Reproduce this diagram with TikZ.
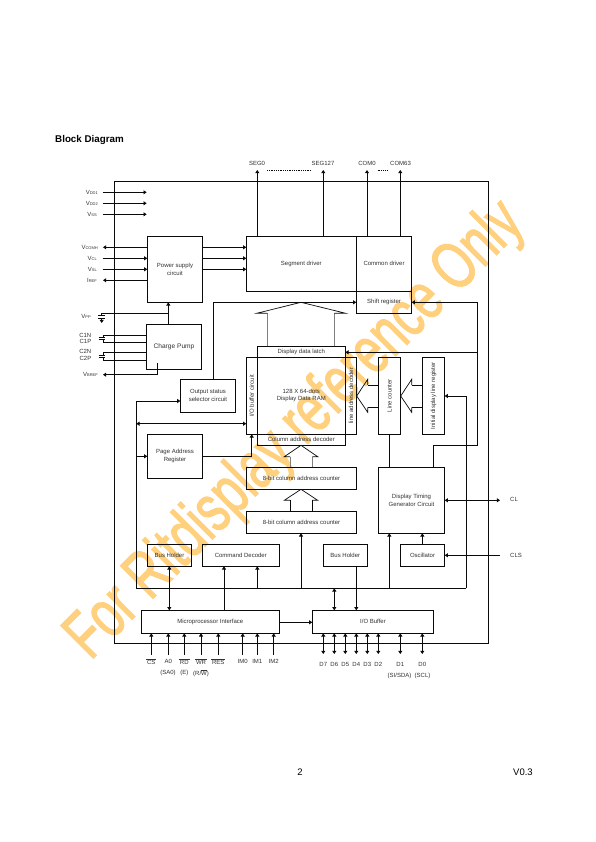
\documentclass[tikz,border=0pt]{standalone}
\usepackage{fontspec}
\setmainfont{Liberation Sans}
\newfontfamily\wmfont[FakeBold=2]{Liberation Sans}
\usetikzlibrary{arrows.meta}
\definecolor{wm}{RGB}{255,208,125}
\definecolor{ln}{RGB}{10,10,10}
\definecolor{txt}{RGB}{50,50,50}
\tikzset{
 x=1pt,y=-1pt,
 every node/.style={text=txt,font=\fontsize{6}{8}\selectfont,inner sep=0pt,align=center},
 blk/.style={draw=ln,line width=.85pt},
 wire/.style={draw=ln,line width=.8pt},
 tip/.tip={Triangle[length=3.2pt,width=4pt]},
 ar/.style={wire,-tip},
 ra/.style={wire,tip-},
 bi/.style={wire,tip-tip},
 hollow/.style={draw=ln,line width=.7pt},
 stem/.style={draw=gray,line width=.8pt},
}
\newcommand{\ov}[1]{$\overline{\mbox{\,#1\,}}$}
\newcommand{\sbs}[1]{{\fontsize{4}{4}\selectfont #1}}
\begin{document}
\begin{tikzpicture}
\useasboundingbox (0,0) rectangle (595,842);
\fill[white] (0,0) rectangle (595,842);
% watermark
\node[rotate=45,xscale=.71,text=wm,font=\wmfont\fontsize{67}{67}\selectfont] (wmk) at (296,431) {For Ritdisplay reference Only};
% title
\node[anchor=west,text=black,font=\bfseries\fontsize{9.8}{11}\selectfont] (title) at (55,139.5) {Block Diagram};
\node[text=black,font=\fontsize{9.5}{11}\selectfont] (pg) at (300,772) {2};
\node[text=black,font=\fontsize{9.5}{11}\selectfont] (ver) at (523,772) {V0.3};
% outer
\draw[blk] (114.3,181.5) rectangle (488,643);
% blocks
\draw[blk] (147.3,236.3) rectangle node (ps) {Power supply\\circuit} (202.7,302.3);
\draw[blk] (146.3,324.3) rectangle node[font=\fontsize{6.6}{8}\selectfont] (cp) {Charge Pump} (201.7,369.3);
\draw[blk] (246.3,236.3) rectangle node (seg) {Segment driver} (356.3,291.3);
\draw[blk] (356.3,236.3) rectangle node (com) {Common driver} (411.7,291.3);
\draw[blk] (356.3,291.3) rectangle node (shift) {Shift register} (411.7,313.3);
\draw[blk] (180.3,379.3) rectangle node (oss) {Output status\\selector circuit} (235.7,412.3);
\draw[blk] (246.3,357.3) rectangle node[rotate=90] (iob) {I/O buffer circuit} (257.3,434.3);
\draw[blk] (257.3,357.3) rectangle node (ram) {128 X 64-dots\\[-1pt]Display Data RAM} (345.3,434.3);
\draw[blk] (257.3,346.3) rectangle node (ddl) {Display data latch} (345.3,357.3);
\draw[blk] (345.3,357.3) rectangle node[rotate=90] (lad) {line address decoder} (356.7,434.3);
\draw[blk] (257.3,434.3) rectangle node (cad) {Column address decoder} (345.3,445.3);
\draw[blk] (147.3,434.3) rectangle node (par) {Page Address\\Register} (202.7,478.3);
\draw[blk] (246.3,467.3) rectangle node (cnt1) {8-bit column address counter} (356.7,489.3);
\draw[blk] (246.3,511.3) rectangle node (cnt2) {8-bit column address counter} (356.7,533.3);
\draw[blk] (378.3,357.3) rectangle node[rotate=90] (lc) {Line counter} (400.7,434.3);
\draw[blk] (422.3,357.3) rectangle node[rotate=90] (idl) {Initial display line register} (444.7,434.3);
\draw[blk] (378.3,467.3) rectangle node (dtg) {Display Timing\\Generator Circuit} (444.7,533.3);
\draw[blk] (400.3,544.3) rectangle node (osc) {Oscillator} (444.7,566.3);
\draw[blk] (323.3,544.3) rectangle node (bh2) {Bus Holder} (367.3,566.3);
\draw[blk] (147.3,544.3) rectangle node (bh1) {Bus Holder} (191.7,566.3);
\draw[blk] (202.3,544.3) rectangle node (cmd) {Command Decoder} (279.3,566.3);
\draw[blk] (141.3,610.3) rectangle node (mpi) {Microprocessor Interface} (279.3,633.3);
\draw[blk] (312.3,610.3) rectangle node (iob2) {I/O Buffer} (433.7,633.3);
% left pins
\foreach \y in {192.3,203.3,214.3}{\draw[ar] (102.7,\y) -- (146.7,\y);}
\node[anchor=east] (vdd1) at (98,192.3) {V\sbs{DD1}};
\node[anchor=east] (vdd2) at (98,203.3) {V\sbs{DD2}};
\node[anchor=east] (vss) at (97,214.3) {V\sbs{SS}};
\node[anchor=east] (vcomh) at (98,247.3) {V\sbs{COMH}};
\node[anchor=east] (vcl) at (97,258.3) {V\sbs{CL}};
\node[anchor=east] (vsl) at (97,269.3) {V\sbs{SL}};
\node[anchor=east] (iref) at (97,280.3) {I\sbs{REF}};
\draw[ra] (103,247.3) -- (147.3,247.3);
\draw[ar] (102.7,258.3) -- (147.3,258.3);
\draw[ar] (102.7,269.3) -- (147.3,269.3);
\draw[ra] (103,280.3) -- (147.3,280.3);
\foreach \y in {247.3,258.3,269.3}{\draw[ar] (202.7,\y) -- (246.3,\y);}
% Vpp and caps
\node[anchor=east] (vpp) at (91,316.7) {V\sbs{PP}};
\draw[wire] (101.7,313.3) -- (168.3,313.3);
\draw[ar] (168.3,324.3) -- (168.3,302.3);
\draw[wire] (101.7,313.3) -- (101.7,315.5);
\draw[wire] (98.3,315.5) -- (105,315.5) (98.3,318) -- (105,318);
\draw[ar] (101.7,318) -- (101.7,323);
\node[anchor=east] (c1n) at (91.5,335) {C1N};
\node[anchor=east] (c1p) at (91.5,341) {C1P};
\node[anchor=east] (c2n) at (91.5,351.7) {C2N};
\node[anchor=east] (c2p) at (91.5,358.3) {C2P};
\draw[wire] (103,335) -- (146.3,335) (103,342.3) -- (146.3,342.3);
\draw[wire] (103,352.7) -- (146.3,352.7) (103,360.3) -- (146.3,360.3);
\draw[wire] (103,335) -- (103,337.5) (103,342.3) -- (103,339.8);
\draw[wire] (98.5,337.5) -- (105,337.5) (98.5,339.8) -- (105,339.8);
\draw[wire] (103,352.7) -- (103,355.2) (103,360.3) -- (103,357.5);
\draw[wire] (98.5,355.2) -- (105,355.2) (98.5,357.5) -- (105,357.5);
\node[anchor=east] (vbref) at (98,374.7) {V\sbs{BREF}};
\draw[ra] (103,374.7) -- (157.7,374.7) -- (157.7,363.3);
% top pins
\node (seg0) at (257,163.5) {SEG0};
\node (seg127) at (323,163.5) {SEG127};
\node (com0) at (367,163.5) {COM0};
\node (com63) at (400.5,163.5) {COM63};
\foreach \x in {257.3,323.3,367,400.3}{\draw[ar] (\x,236.3) -- (\x,170);}
\draw[ln,line width=.7pt,dash pattern=on .8pt off 1pt] (267,170) -- (311,170);
\draw[ln,line width=.7pt,dash pattern=on .8pt off 1pt] (377.5,170) -- (387,170);
% hollow arrows
\draw[stem] (267.3,346.3) -- (267.3,313.3) (334.3,346.3) -- (334.3,313.3);
\draw[hollow] (267.3,313.3) -- (256.7,313.3) -- (301,302.3) -- (345.7,313.3) -- (334.3,313.3);
\draw[stem] (290,467.3) -- (290,456.7) (312.3,467.3) -- (312.3,456.7);
\draw[hollow] (290,456.7) -- (284.3,456.7) -- (301,445.3) -- (317.7,456.7) -- (312.3,456.7);
\draw[wire] (290,511.3) -- (290,500.3) (312.3,511.3) -- (312.3,500.3);
\draw[hollow] (290,500.3) -- (284.3,500.3) -- (301,489.3) -- (317.7,500.3) -- (312.3,500.3);
\draw[wire] (378.3,385) -- (367.7,385) (378.3,407.3) -- (367.7,407.3);
\draw[hollow] (367.7,385) -- (367.7,379.3) -- (356.7,396) -- (367.7,412.3) -- (367.7,407.3);
\draw[wire] (422.3,385) -- (411.7,385) (422.3,407.3) -- (411.7,407.3);
\draw[hollow] (411.7,385) -- (411.7,379.3) -- (400.7,396) -- (411.7,412.3) -- (411.7,407.3);
% control lines
\draw[ar] (213.3,379.3) -- (213.3,302.3) -- (356.3,302.3);
\draw[ar] (433.3,467.3) -- (433.3,445.3) -- (477.3,445.3) -- (477.3,302.3) -- (411.7,302.3);
\draw[ar] (477.3,352.3) -- (345.3,352.3);
\draw[wire] (389.3,434.3) -- (389.3,467.3);
\draw[ar] (422.3,544.3) -- (422.3,533.3);
\draw[ar] (136.3,588.3) -- (136.3,401) -- (180.3,401);
\draw[bi] (136.3,423.7) -- (246.3,423.7);
\draw[ar] (136.3,456.3) -- (147.3,456.3);
\draw[ar] (202.7,456.3) -- (251.7,456.3) -- (251.7,434.3);
\draw[wire] (136.3,588.3) -- (466.3,588.3);
\draw[ar] (466.3,588.3) -- (466.3,396) -- (444.7,396);
\draw[ar] (389.3,588.3) -- (389.3,533.3);
\draw[ar] (301,588.3) -- (301,533.3);
\draw[ar] (257.3,588.3) -- (257.3,566.3);
\draw[ar] (224,610.3) -- (224,566.3);
\draw[bi] (169.3,566.3) -- (169.3,610.3);
\draw[bi] (334.3,588.3) -- (334.3,610.3);
\draw[ar] (356.3,566.3) -- (356.3,610.3);
\draw[ar] (279.3,622.3) -- (312.3,622.3);
% CL / CLS
\coordinate (clend) at (500,500.3);
\coordinate (clsend) at (500,555.3);
\draw[bi] (444.7,500.3) -- (clend);
\draw[ra] (444.7,555.3) -- (clsend);
\node[anchor=west] (cl) at (510,499.5) {CL};
\node[anchor=west] (cls) at (510,555) {CLS};
% bottom pins
\foreach \x in {151.3,168.3,184.3,201,218.3,242.7,257.3,273.7}{\draw[ra] (\x,633.3) -- (\x,655);}
\foreach \x/\t in {151.3/\ov{CS},168.3/A0,184.3/\ov{RD},201/\ov{WR},218.3/\ov{RES},242.7/IM0,257.3/IM1,273.7/IM2}{
 \node at (\x,661.7) {\t};}
\node (sa0) at (168,673) {(SA0)};
\node (e) at (184.3,673) {(E)};
\node (rw) at (201,673) {(R/$\overline{\mbox{W}}$)};
\foreach \x/\t in {323.3/D7,334.3/D6,345.3/D5,356.3/D4,367.3/D3,378.3/D2,400.3/D1,422.3/D0}{
 \draw[bi] (\x,633.3) -- (\x,654);
 \node at (\x,664.7) {\t};}
\node (sda) at (399.5,675.7) {(SI/SDA)};
\node (scl) at (422.5,675.7) {(SCL)};
\end{tikzpicture}
\end{document}
